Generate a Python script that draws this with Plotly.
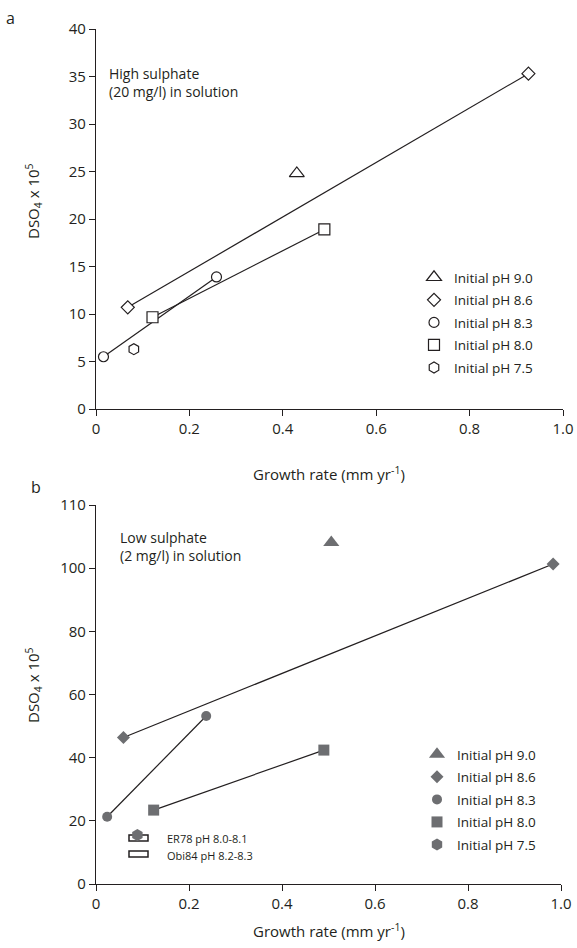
import plotly.graph_objects as go

W, H = 577, 948

# ---------------- data ----------------
ph_labels = ["Initial pH 9.0", "Initial pH 8.6", "Initial pH 8.3", "Initial pH 8.0", "Initial pH 7.5"]
ph_symbols = ["triangle-up", "diamond", "circle", "square", "hexagon"]

# panel a : high sulphate (20 mg/l)
a_ph90_x = [0.43];          a_ph90_y = [24.8]
a_ph86_x = [0.068, 0.926];  a_ph86_y = [10.7, 35.3]
a_ph83_x = [0.016, 0.258];  a_ph83_y = [5.5, 13.9]
a_ph80_x = [0.121, 0.489];  a_ph80_y = [9.66, 18.9]
a_ph75_x = [0.081];         a_ph75_y = [6.3]

# panel b : low sulphate (2 mg/l)
b_ph90_x = [0.506];         b_ph90_y = [108.1]
b_ph86_x = [0.059, 0.983];  b_ph86_y = [46.4, 101.3]
b_ph83_x = [0.024, 0.237];  b_ph83_y = [21.3, 53.2]
b_ph80_x = [0.124, 0.49];   b_ph80_y = [23.4, 42.4]
b_ph75_x = [0.089];         b_ph75_y = [15.5]

x_ticks = [0, 0.2, 0.4, 0.6, 0.8, 1.0]
x_ticktext = ["0", "0.2", "0.4", "0.6", "0.8", "1.0"]
a_yticks = [0, 5, 10, 15, 20, 25, 30, 35, 40]
b_yticks = [0, 20, 40, 60, 80, 100, 120]
b_yticktext = ["0", "20", "40", "60", "80", "100", "110"]

small_legend = ["ER78 pH 8.0-8.1", "Obi84 pH 8.2-8.3"]

# ---------------- style ----------------
INK = "#231f20"
GREY = "#6d6e71"
FONT = "Open Sans"
open_sizes = [13, 10, 10, 11, 11]
fill_sizes = [14, 10, 10, 11, 12]

def px(x):
    return x / W

def py(y):
    return 1 - y / H

fig = go.Figure()

a_series = [(a_ph90_x, a_ph90_y), (a_ph86_x, a_ph86_y), (a_ph83_x, a_ph83_y),
            (a_ph80_x, a_ph80_y), (a_ph75_x, a_ph75_y)]
b_series = [(b_ph90_x, b_ph90_y), (b_ph86_x, b_ph86_y), (b_ph83_x, b_ph83_y),
            (b_ph80_x, b_ph80_y), (b_ph75_x, b_ph75_y)]

# connecting lines (below markers)
for (xs, ys) in a_series:
    if len(xs) > 1:
        fig.add_trace(go.Scatter(x=xs, y=ys, mode="lines", xaxis="x", yaxis="y",
                                 line=dict(color=INK, width=1.2), showlegend=False, hoverinfo="skip"))
for (xs, ys) in b_series:
    if len(xs) > 1:
        fig.add_trace(go.Scatter(x=xs, y=ys, mode="lines", xaxis="x2", yaxis="y2",
                                 line=dict(color=INK, width=1.2), showlegend=False, hoverinfo="skip"))

# markers panel a (open, white filled)
for i, (xs, ys) in enumerate(a_series):
    fig.add_trace(go.Scatter(
        x=xs, y=ys, mode="markers", xaxis="x", yaxis="y", name=ph_labels[i],
        legend="legend", legendgroup="a%d" % i,
        marker=dict(symbol=ph_symbols[i], size=open_sizes[i], color="white",
                    line=dict(color=INK, width=1.2))))

# markers panel b (filled grey)
for i, (xs, ys) in enumerate(b_series):
    fig.add_trace(go.Scatter(
        x=xs, y=ys, mode="markers", xaxis="x2", yaxis="y2", name=ph_labels[i],
        legend="legend2", legendgroup="b%d" % i,
        marker=dict(symbol=ph_symbols[i], size=fill_sizes[i], color=GREY,
                    line=dict(width=0))))

axis_common = dict(
    showline=True, linecolor=INK, linewidth=1.2, ticks="outside", ticklen=6,
    tickwidth=1.2, tickcolor=INK, showgrid=False, zeroline=False, automargin=False,
    tickfont=dict(family=FONT, size=15, color=INK),
)

fig.update_layout(
    width=W, height=H,
    margin=dict(l=0, r=0, t=0, b=0, autoexpand=False),
    paper_bgcolor="white", plot_bgcolor="rgba(0,0,0,0)",
    font=dict(family=FONT, color=INK),
    xaxis=dict(domain=[px(96), px(563)], range=[0, 1.0], anchor="y",
               tickvals=x_ticks, ticktext=x_ticktext, **axis_common),
    yaxis=dict(domain=[py(409), py(29)], range=[0, 40], anchor="x",
               tickvals=a_yticks, **axis_common),
    xaxis2=dict(domain=[px(96), px(561)], range=[0, 1.0], anchor="y2",
                tickvals=x_ticks, ticktext=x_ticktext, **axis_common),
    yaxis2=dict(domain=[py(884), py(505)], range=[0, 120], anchor="x2",
                tickvals=b_yticks, ticktext=b_yticktext, **axis_common),
    legend=dict(x=px(414), y=py(262), xanchor="left", yanchor="top",
                font=dict(family=FONT, size=13.5, color=INK), bgcolor="rgba(0,0,0,0)",
                traceorder="grouped", tracegroupgap=2, itemclick=False),
    legend2=dict(x=px(417), y=py(739), xanchor="left", yanchor="top",
                 font=dict(family=FONT, size=13.5, color=INK), bgcolor="rgba(0,0,0,0)",
                 traceorder="grouped", tracegroupgap=2, itemclick=False),
)

ann = []
def add_text(text, x, y, size, xanchor="center", yanchor="middle", angle=0, align="center"):
    ann.append(dict(text=text, x=px(x), y=py(y), xref="paper", yref="paper",
                    xanchor=xanchor, yanchor=yanchor, textangle=angle, align=align,
                    showarrow=False, font=dict(size=size, family=FONT, color=INK)))

add_text("a", 10, 18, 16)
add_text("b", 36, 487, 16)
add_text("High sulphate<br>(20 mg/l) in solution", 107, 83, 14, xanchor="left", align="left")
add_text("Low sulphate<br>(2 mg/l) in solution", 118, 546, 14, xanchor="left", align="left")
for yc in (201, 685):
    add_text("DSO<sub>4</sub> x 10<sup>5</sup>", 33, yc, 15, angle=-90)
for yc in (473, 930):
    add_text("Growth rate (mm yr<sup>-1</sup>)", 329, yc, 15)
for i, yc in enumerate((838, 855)):
    add_text(small_legend[i], 165, yc, 11, xanchor="left", align="left")

shapes = []
for (y0, y1) in ((835, 841), (851, 857)):
    shapes.append(dict(type="rect", xref="paper", yref="paper",
                       x0=px(129), x1=px(148), y0=py(y1), y1=py(y0),
                       line=dict(color=INK, width=1.5), fillcolor="white", layer="below"))

fig.update_layout(annotations=ann, shapes=shapes)

fig.write_html("out.html")
